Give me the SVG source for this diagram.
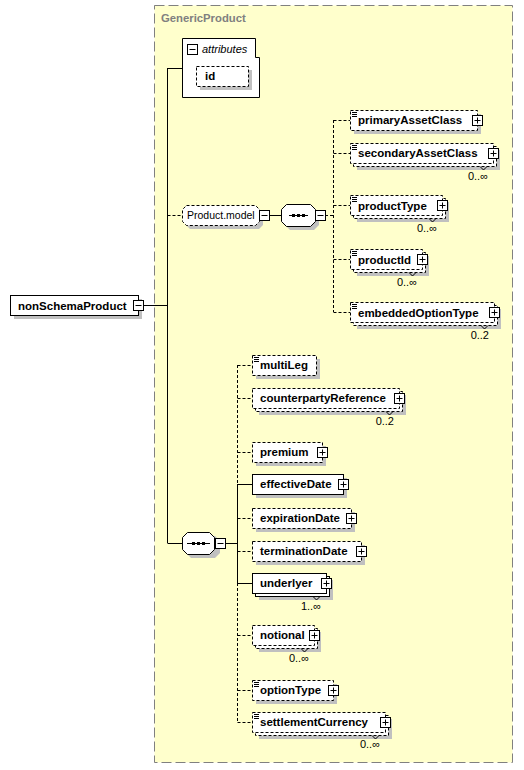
<svg xmlns="http://www.w3.org/2000/svg" width="524" height="770" viewBox="0 0 524 770">
<style>
.bg{fill:#fff}
.frame{fill:#ffffcc;stroke:#808080;stroke-width:1;stroke-dasharray:10 4}
.box{fill:#fff;stroke:#000;stroke-width:1}
.dash{stroke-dasharray:3 2}
.sh{fill:#c0c0c0}
.pm{fill:#fff;stroke:#000;stroke-width:1}
.pl{stroke:#000;stroke-width:1;fill:none}
.ln{stroke:#000;stroke-width:1;fill:none}
.dl{stroke:#000;stroke-width:1;fill:none;stroke-dasharray:3 2}
.t{font-family:"Liberation Sans",Arial,sans-serif;font-size:11.5px;font-weight:bold;fill:#000}
.r{font-family:"Liberation Sans",Arial,sans-serif;font-size:10.5px;fill:#000}
.occ{font-family:"Liberation Sans",Arial,sans-serif;font-size:11px;fill:#000}
.gt{font-family:"Liberation Sans",Arial,sans-serif;font-size:11.3px;font-weight:bold;fill:#808080}
.it{font-family:"Liberation Sans",Arial,sans-serif;font-size:11px;font-style:italic;fill:#000}
</style>
<rect class="bg" x="0" y="0" width="524" height="770"/>
<g id="GenericProduct">
<rect class="frame" x="154.5" y="5.5" width="358" height="757"/>
<text class="gt" x="161" y="22">GenericProduct</text>
</g>
<g id="connectors">
<path class="ln" d="M144 305.5H167.5M167.5 68V543M167.5 68.5H182M167.5 543.5H182"/>
<path class="dl" d="M167.5 215.5H182"/>
<path class="ln" d="M269 215.5H281"/>
<path class="dl" d="M325 215.5H333.5M333.5 120V312M333.5 120.5H350M333.5 153.5H350M333.5 205.5H350M333.5 259.5H350M333.5 312.5H350"/>
<path class="ln" d="M225 543.5H237.5"/>
<path class="dl" d="M237.5 365V484M237.5 583V722"/>
<path class="ln" d="M237.5 484V583"/>
<path class="dl" d="M237.5 365.5H252M237.5 398.5H252M237.5 452.5H252M237.5 518.5H252M237.5 551.5H252M237.5 635.5H252M237.5 690.5H252M237.5 722.5H252"/>
<path class="ln" d="M237.5 484.5H252M237.5 583.5H252"/>
</g>
<g id="nonSchemaProduct">
<rect class="sh" x="14" y="299" width="128" height="20"/>
<rect class="box" x="10.5" y="295.5" width="128" height="20"/>
<text class="t" x="18" y="310">nonSchemaProduct</text>
<rect class="pm" x="133.5" y="300.5" width="10" height="10"/>
<path class="pl" d="M135.5 305.5H141.5"/>
</g>
<g id="attributes">
<path class="box" d="M182.5 38.5H255.5V57.5H259.5V97.5H182.5Z"/>
<rect class="pm" x="187.5" y="44.5" width="10" height="10"/>
<path class="pl" d="M189.5 49.5H195.5"/>
<text class="it" x="202" y="53">attributes</text>
<rect class="sh" x="200" y="70" width="52" height="20"/>
<rect class="box dash" x="196.5" y="66.5" width="52" height="20"/>
<text class="t" x="205" y="80">id</text>
</g>
<g id="Product.model">
<path class="sh" d="M190 209H259L263 213V225L259 229H190L186 225V213Z"/>
<path class="box dash" d="M186.5 205.5H255.5L259.5 209.5V221.5L255.5 225.5H186.5L182.5 221.5V209.5Z"/>
<text class="r" x="187" y="219">Product.model</text>
<rect class="pm" x="259.5" y="210.5" width="10" height="10"/>
<path class="pl" d="M261.5 215.5H267.5"/>
</g>
<g id="sequence1">
<path class="sh" d="M290 208H314L319 213V225L314 230H290L285 225V213Z"/>
<path class="box" d="M286.5 204.5H310.5L315.5 209.5V221.5L310.5 226.5H286.5L281.5 221.5V209.5Z"/>
<path class="ln" d="M289 215.5H308"/>
<rect x="292" y="214" width="3" height="3"/><rect x="297" y="214" width="3" height="3"/><rect x="302" y="214" width="3" height="3"/>
<rect class="pm" x="315.5" y="210.5" width="10" height="10"/>
<path class="pl" d="M317.5 215.5H323.5"/>
</g>
<g id="primaryAssetClass">
<rect class="sh" x="354" y="114" width="127" height="20"/>
<rect class="box dash" x="350.5" y="110.5" width="127" height="20"/>
<path class="pl" d="M352 112.5H357M352 114.5H357M352 116.5H357"/>
<text class="t" x="358" y="124">primaryAssetClass</text>
<rect class="pm" x="472.5" y="115.5" width="10" height="10"/>
<path class="pl" d="M474.5 120.5H480.5M477.5 117.5V123.5"/>
</g>
<g id="secondaryAssetClass">
<rect class="sh" x="357" y="150" width="143" height="20"/>
<rect class="box dash" x="353.5" y="146.5" width="143" height="20"/>
<rect class="box dash" x="350.5" y="143.5" width="143" height="20"/>
<path class="pl" d="M352 145.5H357M352 147.5H357M352 149.5H357"/>
<text class="t" x="358" y="157">secondaryAssetClass</text>
<rect class="pm" x="488.5" y="148.5" width="10" height="10"/>
<path class="pl" d="M490.5 153.5H496.5M493.5 150.5V156.5"/>
<path class="pl" d="M480 166.5L483.5 170L487 166.5"/>
<text class="occ" x="488" y="180" text-anchor="end">0..∞</text>
</g>
<g id="productType">
<rect class="sh" x="357" y="202" width="92" height="20"/>
<rect class="box dash" x="353.5" y="198.5" width="92" height="20"/>
<rect class="box dash" x="350.5" y="195.5" width="92" height="20"/>
<path class="pl" d="M352 197.5H357M352 199.5H357M352 201.5H357"/>
<text class="t" x="358" y="210">productType</text>
<rect class="pm" x="437.5" y="200.5" width="10" height="10"/>
<path class="pl" d="M439.5 205.5H445.5M442.5 202.5V208.5"/>
<path class="pl" d="M429 218.5L432.5 222L436 218.5"/>
<text class="occ" x="437" y="232" text-anchor="end">0..∞</text>
</g>
<g id="productId">
<rect class="sh" x="357" y="256" width="72" height="20"/>
<rect class="box dash" x="353.5" y="252.5" width="72" height="20"/>
<rect class="box dash" x="350.5" y="249.5" width="72" height="20"/>
<path class="pl" d="M352 251.5H357M352 253.5H357M352 255.5H357"/>
<text class="t" x="358" y="264">productId</text>
<rect class="pm" x="417.5" y="254.5" width="10" height="10"/>
<path class="pl" d="M419.5 259.5H425.5M422.5 256.5V262.5"/>
<path class="pl" d="M409 272.5L412.5 276L416 272.5"/>
<text class="occ" x="417" y="286" text-anchor="end">0..∞</text>
</g>
<g id="embeddedOptionType">
<rect class="sh" x="357" y="309" width="144" height="20"/>
<rect class="box dash" x="353.5" y="305.5" width="144" height="20"/>
<rect class="box dash" x="350.5" y="302.5" width="144" height="20"/>
<path class="pl" d="M352 304.5H357M352 306.5H357M352 308.5H357"/>
<text class="t" x="358" y="317">embeddedOptionType</text>
<rect class="pm" x="489.5" y="307.5" width="10" height="10"/>
<path class="pl" d="M491.5 312.5H497.5M494.5 309.5V315.5"/>
<path class="pl" d="M481 325.5L484.5 329L488 325.5"/>
<text class="occ" x="489" y="339" text-anchor="end">0..2</text>
</g>
<g id="sequence2">
<path class="sh" d="M191 536H215L220 541V553L215 558H191L186 553V541Z"/>
<path class="box" d="M187.5 532.5H209.5L214.5 537.5V549.5L209.5 554.5H187.5L182.5 549.5V537.5Z"/>
<path class="ln" d="M187 543.5H210"/>
<rect x="192" y="542" width="3" height="3"/><rect x="197" y="542" width="3" height="3"/><rect x="202" y="542" width="3" height="3"/>
<rect class="pm" x="215.5" y="538.5" width="10" height="10"/>
<path class="pl" d="M217.5 543.5H223.5"/>
</g>
<g id="multiLeg">
<rect class="sh" x="256" y="359" width="64" height="20"/>
<rect class="box dash" x="252.5" y="355.5" width="64" height="20"/>
<path class="pl" d="M254 357.5H259M254 359.5H259M254 361.5H259"/>
<text class="t" x="260" y="369">multiLeg</text>
</g>
<g id="counterpartyReference">
<rect class="sh" x="259" y="395" width="147" height="20"/>
<rect class="box dash" x="255.5" y="391.5" width="147" height="20"/>
<rect class="box dash" x="252.5" y="388.5" width="147" height="20"/>
<text class="t" x="260" y="402">counterpartyReference</text>
<rect class="pm" x="394.5" y="393.5" width="10" height="10"/>
<path class="pl" d="M396.5 398.5H402.5M399.5 395.5V401.5"/>
<path class="pl" d="M386 411.5L389.5 415L393 411.5"/>
<text class="occ" x="394" y="425" text-anchor="end">0..2</text>
</g>
<g id="premium">
<rect class="sh" x="256" y="446" width="70" height="20"/>
<rect class="box dash" x="252.5" y="442.5" width="70" height="20"/>
<text class="t" x="260" y="456">premium</text>
<rect class="pm" x="317.5" y="447.5" width="10" height="10"/>
<path class="pl" d="M319.5 452.5H325.5M322.5 449.5V455.5"/>
</g>
<g id="effectiveDate">
<rect class="sh" x="256" y="478" width="91" height="20"/>
<rect class="box" x="252.5" y="474.5" width="91" height="20"/>
<text class="t" x="260" y="488">effectiveDate</text>
<rect class="pm" x="338.5" y="479.5" width="10" height="10"/>
<path class="pl" d="M340.5 484.5H346.5M343.5 481.5V487.5"/>
</g>
<g id="expirationDate">
<rect class="sh" x="256" y="512" width="99" height="20"/>
<rect class="box dash" x="252.5" y="508.5" width="99" height="20"/>
<text class="t" x="260" y="522">expirationDate</text>
<rect class="pm" x="346.5" y="513.5" width="10" height="10"/>
<path class="pl" d="M348.5 518.5H354.5M351.5 515.5V521.5"/>
</g>
<g id="terminationDate">
<rect class="sh" x="256" y="545" width="109" height="20"/>
<rect class="box dash" x="252.5" y="541.5" width="109" height="20"/>
<text class="t" x="260" y="555">terminationDate</text>
<rect class="pm" x="356.5" y="546.5" width="10" height="10"/>
<path class="pl" d="M358.5 551.5H364.5M361.5 548.5V554.5"/>
</g>
<g id="underlyer">
<rect class="sh" x="259" y="580" width="74" height="20"/>
<rect class="box" x="255.5" y="576.5" width="74" height="20"/>
<rect class="box" x="252.5" y="573.5" width="74" height="20"/>
<text class="t" x="260" y="587">underlyer</text>
<rect class="pm" x="321.5" y="578.5" width="10" height="10"/>
<path class="pl" d="M323.5 583.5H329.5M326.5 580.5V586.5"/>
<path class="pl" d="M313 596.5L316.5 600L320 596.5"/>
<text class="occ" x="321" y="610" text-anchor="end">1..∞</text>
</g>
<g id="notional">
<rect class="sh" x="259" y="632" width="62" height="20"/>
<rect class="box dash" x="255.5" y="628.5" width="62" height="20"/>
<rect class="box dash" x="252.5" y="625.5" width="62" height="20"/>
<text class="t" x="260" y="639">notional</text>
<rect class="pm" x="309.5" y="630.5" width="10" height="10"/>
<path class="pl" d="M311.5 635.5H317.5M314.5 632.5V638.5"/>
<path class="pl" d="M301 648.5L304.5 652L308 648.5"/>
<text class="occ" x="309" y="662" text-anchor="end">0..∞</text>
</g>
<g id="optionType">
<rect class="sh" x="256" y="684" width="81" height="20"/>
<rect class="box dash" x="252.5" y="680.5" width="81" height="20"/>
<path class="pl" d="M254 682.5H259M254 684.5H259M254 686.5H259"/>
<text class="t" x="260" y="694">optionType</text>
<rect class="pm" x="328.5" y="685.5" width="10" height="10"/>
<path class="pl" d="M330.5 690.5H336.5M333.5 687.5V693.5"/>
</g>
<g id="settlementCurrency">
<rect class="sh" x="259" y="719" width="133" height="20"/>
<rect class="box dash" x="255.5" y="715.5" width="133" height="20"/>
<rect class="box dash" x="252.5" y="712.5" width="133" height="20"/>
<path class="pl" d="M254 714.5H259M254 716.5H259M254 718.5H259"/>
<text class="t" x="260" y="726">settlementCurrency</text>
<rect class="pm" x="380.5" y="717.5" width="10" height="10"/>
<path class="pl" d="M382.5 722.5H388.5M385.5 719.5V725.5"/>
<path class="pl" d="M372 735.5L375.5 739L379 735.5"/>
<text class="occ" x="380" y="748" text-anchor="end">0..∞</text>
</g>
</svg>
